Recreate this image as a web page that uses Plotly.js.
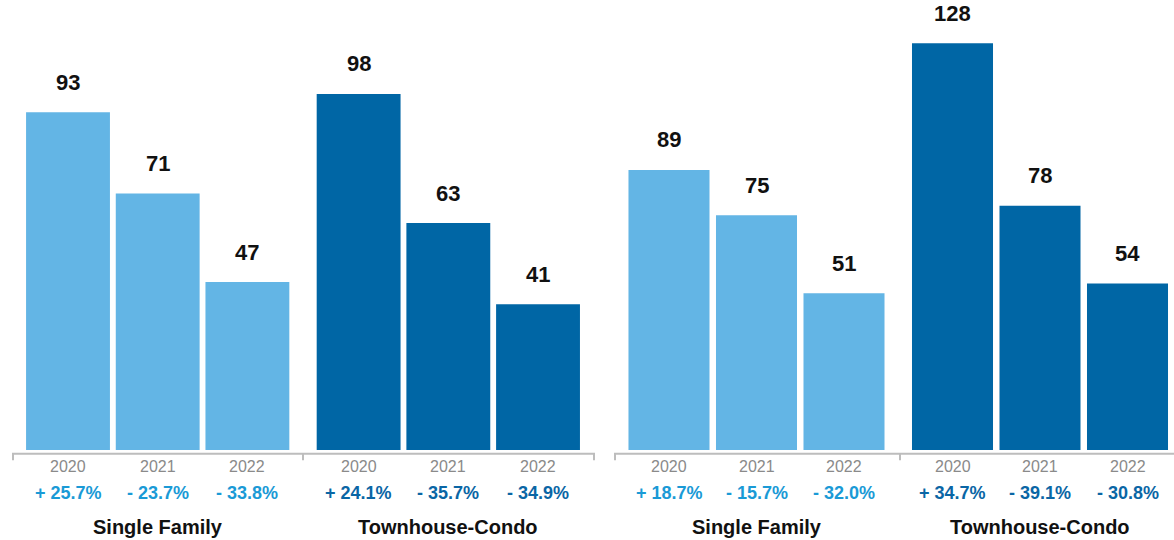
<!DOCTYPE html>
<html>
<head>
<meta charset="utf-8">
<script src="https://cdn.plot.ly/plotly-3.0.1.min.js"></script>
<style>
  html, body { margin: 0; padding: 0; background: #ffffff; }
  #chart { width: 1174px; height: 540px; }
</style>
</head>
<body>
<div id="chart"></div>
<script>
// ---- data ----
const years = ['2020', '2021', '2022'];
const groups = ['Single Family', 'Townhouse-Condo'];

const panel1SingleFamily = [93, 71, 47];
const panel1Townhouse = [98, 63, 41];
const panel1SingleFamilyPct = ['+ 25.7%', '- 23.7%', '- 33.8%'];
const panel1TownhousePct = ['+ 24.1%', '- 35.7%', '- 34.9%'];

const panel2SingleFamily = [89, 75, 51];
const panel2Townhouse = [128, 78, 54];
const panel2SingleFamilyPct = ['+ 18.7%', '- 15.7%', '- 32.0%'];
const panel2TownhousePct = ['+ 34.7%', '- 39.1%', '- 30.8%'];

// ---- styles ----
const LIGHT = '#63b5e5';
const DARK = '#0066a5';
const LIGHT_TXT = '#1a9ad6';
const DARK_TXT = '#0a66a5';
const FONT = 'Liberation Sans, Arial, Helvetica, sans-serif';
const GROUP_OFFSET = 3.24;

function xs(g) { return years.map((_, i) => i + g * GROUP_OFFSET); }

const panels = [
  { xa: 'x', ya: 'y', width: 0.935, series: [panel1SingleFamily, panel1Townhouse], pcts: [panel1SingleFamilyPct, panel1TownhousePct] },
  { xa: 'x2', ya: 'y2', width: 0.926, series: [panel2SingleFamily, panel2Townhouse], pcts: [panel2SingleFamilyPct, panel2TownhousePct] }
];
const barColors = [LIGHT, DARK];
const pctColors = [LIGHT_TXT, DARK_TXT];

const traces = [];
const annotations = [];

panels.forEach(p => {
  p.series.forEach((vals, g) => {
    traces.push({
      type: 'bar',
      x: xs(g),
      y: vals,
      xaxis: p.xa,
      yaxis: p.ya,
      width: p.width,
      marker: { color: barColors[g], line: { width: 0 } },
      hoverinfo: 'skip',
      showlegend: false
    });
    xs(g).forEach((xv, i) => {
      // value label above bar
      annotations.push({
        x: xv, y: vals[i], xref: p.xa, yref: p.ya,
        text: String(vals[i]), showarrow: false,
        yanchor: 'middle', yshift: 30,
        font: { family: FONT, size: 22, color: '#111111', weight: 'bold' }
      });
      // year label
      annotations.push({
        x: xv, y: -0.037, xref: p.xa, yref: 'paper',
        text: years[i], showarrow: false, yanchor: 'middle',
        font: { family: FONT, size: 16, color: '#8a8a8a' }
      });
      // percent change
      annotations.push({
        x: xv, y: -0.095, xref: p.xa, yref: 'paper',
        text: p.pcts[g][i], showarrow: false, yanchor: 'middle',
        font: { family: FONT, size: 18, color: pctColors[g], weight: 'bold' }
      });
    });
    // group label under middle bar
    annotations.push({
      x: xs(g)[1], y: -0.171, xref: p.xa, yref: 'paper',
      text: groups[g], showarrow: false, yanchor: 'middle',
      font: { family: FONT, size: 20, color: '#111111', weight: 'bold' }
    });
  });
});

// axis baselines with ticks (paper coordinates)
const W = 1174;
const lineY = -0.0085, tickY = -0.0225;
const AX = '#bdbdbd';
function hline(x0, x1) { return { type: 'line', xref: 'paper', yref: 'paper', x0: x0 / W, x1: x1 / W, y0: lineY, y1: lineY, line: { color: AX, width: 2 } }; }
function tick(x) { return { type: 'line', xref: 'paper', yref: 'paper', x0: x / W, x1: x / W, y0: lineY, y1: tickY, line: { color: AX, width: 2 } }; }
const shapes = [
  hline(12, 595), tick(13), tick(303), tick(594),
  hline(614, 1174), tick(615), tick(900)
];

const hiddenX = { showgrid: false, zeroline: false, showticklabels: false, ticks: '', showline: false, fixedrange: true };
const hiddenY = { showgrid: false, zeroline: false, showticklabels: false, ticks: '', showline: false, fixedrange: true };

const layout = {
  width: 1174, height: 540,
  margin: { l: 0, r: 0, t: 0, b: 90, pad: 0 },
  paper_bgcolor: '#ffffff', plot_bgcolor: '#ffffff',
  showlegend: false,
  barmode: 'overlay',
  xaxis: Object.assign({}, hiddenX, { domain: [0, 0.5], range: [-0.7581, 5.7860], anchor: 'y' }),
  yaxis: Object.assign({}, hiddenY, { domain: [0, 1], range: [1.49, 123.45], anchor: 'x' }),
  xaxis2: Object.assign({}, hiddenX, { domain: [0.5, 1], range: [-0.9371, 5.7714], anchor: 'y2' }),
  yaxis2: Object.assign({}, hiddenY, { domain: [0, 1], range: [2.74, 141.33], anchor: 'x2' }),
  annotations: annotations,
  shapes: shapes,
  font: { family: FONT }
};

Plotly.newPlot('chart', traces, layout, { displayModeBar: false, staticPlot: true });
</script>
</body>
</html>
